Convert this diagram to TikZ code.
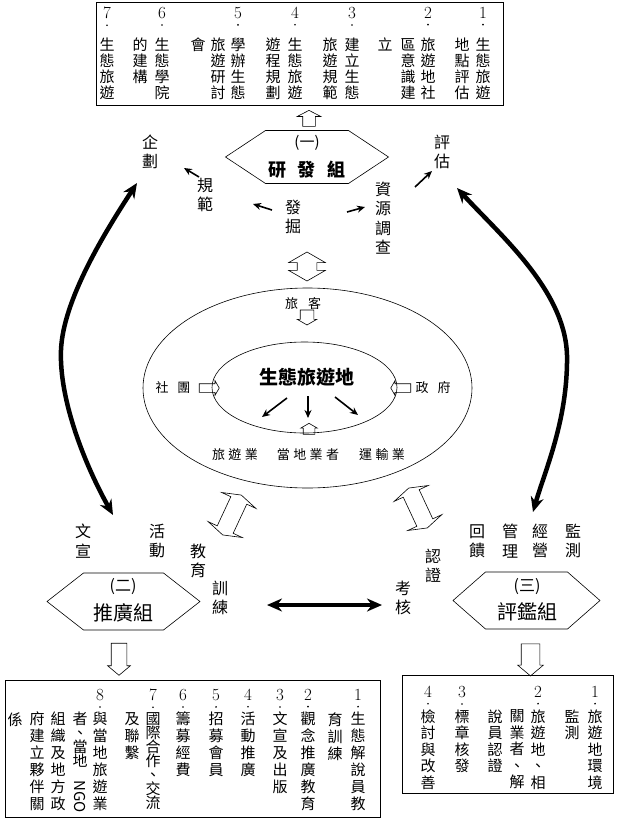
\documentclass[tikz,border=0pt]{standalone}
\usepackage{fontspec}
\usepackage{graphicx}
\usetikzlibrary{shapes.geometric,shapes.arrows,arrows.meta}
\newfontfamily\cjk{Noto Sans CJK TC}
\newcommand\chgap{\hspace{3.5pt}}

\tikzset{
  vcol/.style={font=\cjk\fontsize{15}{16}\selectfont, align=center, anchor=north, inner sep=0pt},
  numlab/.style={font=\fontsize{17}{16}\selectfont, anchor=north, inner sep=0pt},
  lab/.style={font=\cjk\fontsize{16}{19.5}\selectfont, align=center, inner sep=0pt},
  smlab/.style={font=\cjk\fontsize{13}{15}\selectfont, inner sep=0pt},
  grp/.style={font=\cjk\fontsize{20}{22}\selectfont, inner sep=0pt},
  hollow/.style={single arrow, draw, line width=0.6pt, inner xsep=0pt, single arrow tip angle=120},
  hollowtwo/.style={double arrow, draw, line width=0.6pt, inner xsep=0pt, double arrow tip angle=120},
  blk/.style={line width=1.6pt, -{Stealth[length=8pt,width=7pt]}},
  bigarr/.style={line width=4.5pt, {Stealth[length=15pt,width=13pt]}-{Stealth[length=15pt,width=13pt]}},
  listbox/.style={draw, line width=1pt, inner sep=0pt}
}

\begin{document}
\begin{tikzpicture}[x=1pt,y=-1pt]
  \useasboundingbox (0,0) rectangle (618,822);

  % top list
  \node[listbox, minimum width=407pt, minimum height=103pt] (topbox) at (299.5,53.5) {};
  \foreach \x/\n in {483/1,428/2,352/3,295/4,238/5,162/6,107/7}{
    \node[numlab] (tn\n) at (\x,7) {\n};
    \fill ([yshift=-6pt]tn\n.south) circle (0.9pt);
  }
  \foreach \x/\t [count=\i] in {483/{生\\態\\旅\\遊},462/{地\\點\\評\\估},
      428/{旅\\遊\\地\\社},408/{區\\意\\識\\建},385/{立},
      352/{建\\立\\生\\態},330/{旅\\遊\\規\\範},
      295/{生\\態\\旅\\遊},273/{遊\\程\\規\\劃},
      238/{學\\辦\\生\\態},218/{旅\\遊\\研\\討},198/{會},
      162/{生\\態\\學\\院},140/{的\\建\\構},107/{生\\態\\旅\\遊}}{
    \node[vcol] (tc\i) at (\x,38) {\t};
  }

  % hexagons
  \foreach \cx/\cy/\w/\v/\h in {307/157/81.5/41.5/26.5,123.5/601.5/76.5/40/28.5,526.5/600.5/73.5/41/28.5}{
    \draw[line width=0.6pt] (\cx-\w,\cy) -- (\cx-\v,\cy-\h) -- (\cx+\v,\cy-\h) -- (\cx+\w,\cy)
      -- (\cx+\v,\cy+\h) -- (\cx-\v,\cy+\h) -- cycle;
  }
  \node[font=\cjk\fontsize{15}{16}\selectfont, inner sep=0pt] (rdnum) at (307,143) {(一)};
  \node[font=\cjk\bfseries\fontsize{18}{20}\selectfont, inner sep=0pt] (rd) at (307,170) {研\hspace{12pt}發\hspace{12pt}組};
  \node[font=\cjk\fontsize{16}{18}\selectfont, inner sep=0pt] (tgnum) at (123,587) {(二)};
  \node[grp] (tg) at (123,613) {推廣組};
  \node[font=\cjk\fontsize{16}{18}\selectfont, inner sep=0pt] (pjnum) at (527,587) {(三)};
  \node[grp] (pj) at (527,612) {評鑑組};

  \node[hollow, rotate=90, minimum height=16pt, inner ysep=6pt, single arrow head extend=5.5pt,
    single arrow tip angle=125] (up1) at (309,120) {};
  \node[hollowtwo, rotate=90, minimum height=29pt, inner ysep=9.5pt, double arrow head extend=8.5pt] (dud) at (307,266.5) {};

  % labels round the research group
  \node[lab] (qh) at (150,152) {企\\劃};
  \node[lab] (pg) at (442,152) {評\\估};
  \node[lab] (gf) at (205,195) {規\\範};
  \node[lab] (fj) at (293,217) {發\\掘};
  \node[lab] (zy) at (383,218) {資\\源\\調\\查};
  \foreach \a/\b/\c/\d [count=\i] in {199/177/184/168,272/210/253/204,347/212/365/207,415/187/432/171,
      287/398/262/417,308/396/308/418,335/397/358/415}{
    \coordinate (s\i) at (\a,\b);
    \coordinate (e\i) at (\c,\d);
    \draw[blk] (s\i) -- (e\i);
  }

  % ecotourism site
  \node[draw, ellipse, line width=0.6pt, inner sep=0pt, minimum width=329pt, minimum height=200pt] (outer) at (307.5,388) {};
  \node[draw, ellipse, line width=0.6pt, inner sep=0pt, minimum width=185pt, minimum height=91pt] (inner) at (304.5,387.5) {};
  \node[smlab] (lk) at (303,303) {旅\hspace{10pt}客};
  \node[hollow, rotate=-90, minimum height=15pt, inner ysep=6.5pt, single arrow head extend=3pt] (dn1) at (307,315.5) {};
  \node[font=\cjk\bfseries\fontsize{19}{20}\selectfont, inner sep=0pt] (site) at (307,377) {生態旅遊地};
  \node[smlab] (st) at (173,388) {社\hspace{9pt}團};
  \node[hollow, minimum height=20pt, inner ysep=4pt, single arrow head extend=3pt] (r1) at (208,388) {};
  \node[smlab] (zf) at (433,388) {政\hspace{9pt}府};
  \node[hollow, rotate=180, minimum height=20pt, inner ysep=4pt, single arrow head extend=3pt] (l1) at (402,388) {};
  \node[hollow, rotate=90, minimum height=11pt, inner ysep=5.5pt, single arrow head extend=2.5pt] (up2) at (309,430.5) {};
  \node[smlab] (ly) at (235,455) {旅\chgap 遊\chgap 業};
  \node[smlab] (dd) at (308,455) {當\chgap 地\chgap 業\chgap 者};
  \node[smlab] (ys) at (382,455) {運\chgap 輸\chgap 業};
  \node[hollowtwo, rotate=65, minimum height=44pt, inner ysep=8.5pt, double arrow head extend=10pt,
    double arrow tip angle=145] (dl) at (232,515) {};
  \node[hollowtwo, rotate=115, minimum height=44pt, inner ysep=8.5pt, double arrow head extend=10pt,
    double arrow tip angle=145] (dr) at (418,508) {};

  % big curved arrows
  \coordinate (lt) at (137,183);
  \coordinate (lm) at (61,350);
  \coordinate (lb) at (113,515);
  \draw[bigarr] (lt) .. controls (105,232) and (63,300) .. (lm) .. controls (59,400) and (85,465) .. (lb);
  \coordinate (rt) at (457,188);
  \coordinate (rm) at (567,355);
  \coordinate (rb) at (533,512);
  \draw[bigarr] (rt) .. controls (500,235) and (565,290) .. (rm) .. controls (568,420) and (545,470) .. (rb);

  % labels round the two lower groups
  \node[lab] (wx) at (83,541) {文\\宣};
  \node[lab] (hd) at (157,541) {活\\動};
  \node[lab] (jy) at (198,561) {教\\育};
  \node[lab] (xl) at (220,598) {訓\\練};
  \node[lab] (kh) at (403,598) {考\\核};
  \node[lab] (rz) at (433,566) {認\\證};
  \node[lab] (hk) at (477,541) {回\\饋};
  \node[lab] (gl) at (510,541) {管\\理};
  \node[lab] (jn) at (540,541) {經\\營};
  \node[lab] (jc) at (573,541) {監\\測};
  \coordinate (hl) at (267,605);
  \coordinate (hr) at (382,605);
  \draw[bigarr] (hl) -- (hr);

  \node[hollow, rotate=-90, minimum height=32pt, inner ysep=7.5pt, single arrow head extend=3.5pt,
    single arrow tip angle=100] (dn2) at (119,656) {};
  \node[hollow, rotate=-90, minimum height=32pt, inner ysep=9pt, single arrow head extend=3.5pt,
    single arrow tip angle=100] (dn3) at (530.5,656) {};

  % lower left list
  \node[listbox, minimum width=375pt, minimum height=137pt] (lbox) at (192.5,748.5) {};
  \foreach \x/\n in {358/1,308/2,280/3,248/4,216/5,183/6,153/7,100/8}{
    \node[numlab] (ln\n) at (\x,689) {\n};
    \fill ([yshift=-6pt]ln\n.south) circle (0.9pt);
  }
  \foreach \x/\t [count=\i] in {358/{生\\態\\解\\說\\員\\教},335/{育\\訓\\練},
      308/{觀\\念\\推\\廣\\教\\育},280/{文\\宣\\及\\出\\版},248/{活\\動\\推\\廣},
      216/{招\\募\\會\\員},183/{籌\\募\\經\\費},
      153/{國\\[-3pt]際\\[-3pt]合\\[-3pt]作\\[-3pt]、\\[-3pt]交\\[-3pt]流},132/{及\\聯\\繫},
      100/{與\\當\\地\\旅\\遊\\業},80/{者\\[-3pt]、\\[-3pt]當\\[-3pt]地\\[-3pt]\rotatebox{-90}{NGO}},
      58/{組\\織\\及\\地\\方\\政},37/{府\\建\\立\\夥\\伴\\關},15/{係}}{
    \node[vcol, font=\cjk\fontsize{15}{17}\selectfont] (lc\i) at (\x,712) {\t};
  }

  % lower right list
  \node[listbox, minimum width=211pt, minimum height=118pt] (rbox) at (507.5,734) {};
  \foreach \x/\n in {595/1,538/2,462/3,428/4}{
    \node[numlab] (rn\n) at (\x,686) {\n};
    \fill ([yshift=-6pt]rn\n.south) circle (0.9pt);
  }
  \foreach \x/\t [count=\i] in {595/{旅\\遊\\地\\環\\境},572/{監\\測},
      538/{旅\\遊\\地\\、\\相},517/{關\\業\\者\\、\\解},495/{說\\員\\認\\證},
      462/{標\\章\\核\\發},428/{檢\\討\\與\\改\\善}}{
    \node[vcol, font=\cjk\fontsize{15}{16.5}\selectfont] (rc\i) at (\x,709.5) {\t};
  }
\end{tikzpicture}
\end{document}
